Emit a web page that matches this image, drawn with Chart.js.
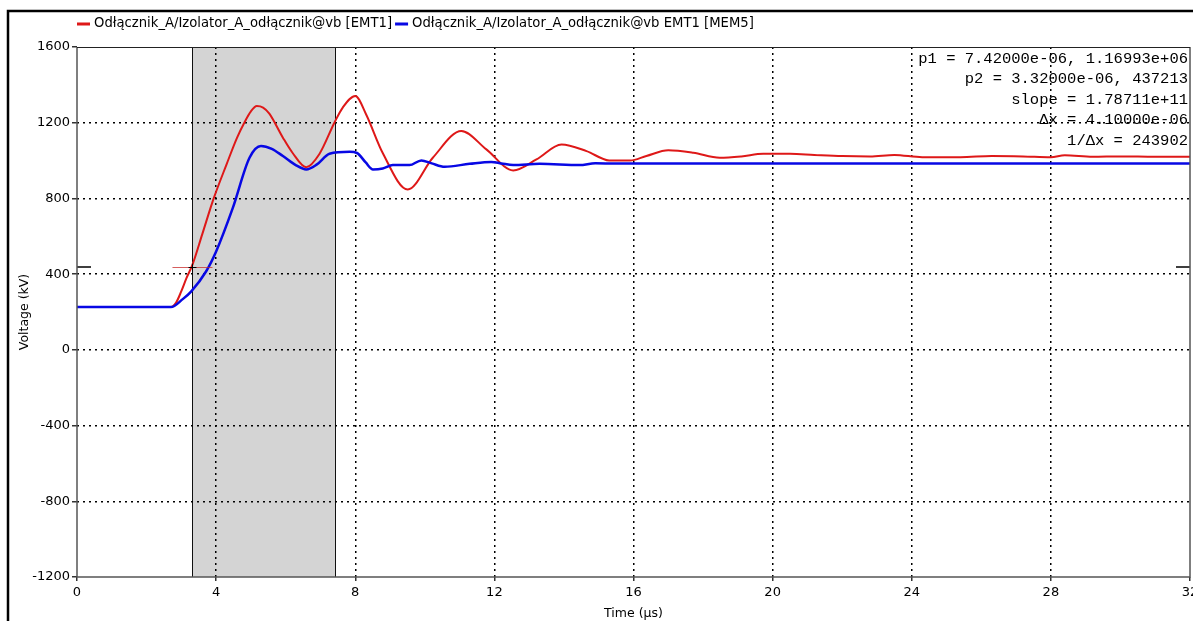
<!DOCTYPE html>
<html><head><meta charset="utf-8">
<script src="https://cdn.jsdelivr.net/npm/chart.js@4"></script>
<style>html,body{margin:0;padding:0;background:#fff}canvas{display:block}</style>
</head><body>
<canvas id="c" width="1193" height="621"></canvas>
<script>
const seriesLabels = ['Odłącznik_A/Izolator_A_odłącznik@vb [EMT1]', 'Odłącznik_A/Izolator_A_odłącznik@vb EMT1 [MEM5]'];
const seriesColors = ['rgb(222,24,24)', 'rgb(8,8,228)'];

const redT = [0, 2.70, 2.85, 3.00, 3.15, 3.32, 3.60, 3.93, 4.30, 4.60, 4.81, 5.00, 5.17, 5.35, 5.53, 5.92, 6.20, 6.59, 6.97, 7.40, 7.64, 8.00, 8.31, 8.79, 9.51, 10.23, 11.05, 11.77, 12.54, 13.21, 13.93, 14.65, 15.30, 15.90, 16.37, 17.00, 17.72, 18.48, 19.10, 19.73, 20.50, 21.20, 22.00, 22.80, 23.50, 24.30, 25.40, 26.30, 27.20, 28.00, 28.40, 29.20, 30.00, 31.00, 32.00];
const redV = [226, 226, 250, 310, 380, 450, 610, 800, 980, 1120, 1200, 1260, 1288, 1280, 1248, 1121, 1040, 965, 1035, 1200, 1280, 1341, 1245, 1040, 847, 1015, 1156, 1059, 948, 1006, 1085, 1050, 1001, 1000, 1024, 1054, 1041, 1015, 1022, 1036, 1036, 1030, 1024, 1022, 1030, 1018, 1018, 1024, 1022, 1018, 1028, 1020, 1022, 1020, 1020];

const blueT = [0, 2.70, 3.04, 3.28, 3.71, 4.00, 4.48, 4.96, 5.29, 5.60, 5.92, 6.30, 6.59, 6.90, 7.26, 7.84, 8.05, 8.30, 8.51, 8.79, 9.08, 9.56, 9.90, 10.20, 10.57, 11.29, 11.91, 12.20, 12.54, 13.30, 14.45, 14.90, 15.50, 32.00];
const blueV = [226, 226, 268, 308, 414, 520, 750, 1015, 1077, 1062, 1024, 975, 953, 980, 1036, 1046, 1040, 990, 953, 958, 976, 976, 1001, 985, 967, 983, 993, 985, 976, 983, 976, 986, 984, 984];

const xTicks = [0, 4, 8, 12, 16, 20, 24, 28, 32];
const xTickLabels = ['0', '4', '8', '12', '16', '20', '24', '28', '32'];
const yTicks = [-1200, -800, -400, 0, 400, 800, 1200, 1600];
const yTickLabels = ['-1200', '-800', '-400', '0', '400', '800', '1200', '1600'];

const cursorP1 = [7.42, 1169.93];
const cursorP2 = [3.32, 437.213];
const cursorText = ['p1 = 7.42000e-06, 1.16993e+06', 'p2 = 3.32000e-06, 437213', 'slope = 1.78711e+11', '\u0394x = 4.10000e-06', '1/\u0394x = 243902'];

const xTitle = 'Time (\u00b5s)';
const yTitle = 'Voltage (kV)';

const pts = (t, v) => t.map((tt, i) => ({x: tt, y: v[i]}));

const deco = {
  id: 'deco',
  beforeDraw(chart) {
    const {ctx, chartArea: a, scales: {x}} = chart;
    ctx.save();
    ctx.fillStyle = '#fff';
    ctx.fillRect(0, 0, chart.width, chart.height);
    const x1 = x.getPixelForValue(cursorP2[0]);
    const x2 = x.getPixelForValue(cursorP1[0]);
    ctx.fillStyle = '#d4d4d4';
    ctx.fillRect(x1, a.top, x2 - x1, a.bottom - a.top);
    ctx.strokeStyle = '#111';
    ctx.lineWidth = 1;
    ctx.beginPath();
    [x1, x2].forEach(px => {
      const p = Math.round(px) + 0.5;
      ctx.moveTo(p, a.top); ctx.lineTo(p, a.bottom);
    });
    ctx.stroke();
    ctx.restore();
  },
  afterDatasetsDraw(chart) {
    const {ctx, chartArea: a, scales: {x, y}} = chart;
    ctx.save();
    const px = x.getPixelForValue(cursorP2[0]);
    const py = Math.round(y.getPixelForValue(cursorP2[1])) + 0.5;
    ctx.strokeStyle = 'rgba(200,40,40,0.75)';
    ctx.lineWidth = 1;
    ctx.beginPath(); ctx.moveTo(px - 20, py); ctx.lineTo(px + 20, py); ctx.stroke();
    ctx.strokeStyle = '#000';
    ctx.beginPath(); ctx.moveTo(px - 4, py); ctx.lineTo(px + 4, py);
    ctx.moveTo(px, py - 4); ctx.lineTo(px, py + 4); ctx.stroke();
    ctx.lineWidth = 1.5;
    ctx.beginPath();
    ctx.moveTo(a.left, py - 0.5); ctx.lineTo(a.left + 14, py - 0.5);
    ctx.moveTo(a.right - 14, py - 0.5); ctx.lineTo(a.right, py - 0.5);
    ctx.stroke();
    ctx.restore();
  },
  afterDraw(chart) {
    const {ctx, chartArea: a} = chart;
    ctx.save();
    ctx.strokeStyle = '#555';
    ctx.lineWidth = 1.5;
    ctx.beginPath();
    ctx.moveTo(a.left, a.top); ctx.lineTo(a.left, a.bottom); ctx.lineTo(a.right, a.bottom); ctx.lineTo(a.right, a.top);
    ctx.stroke();
    ctx.strokeStyle = '#222';
    ctx.lineWidth = 1;
    ctx.beginPath(); ctx.moveTo(a.left, a.top + 0.5); ctx.lineTo(a.right, a.top + 0.5); ctx.stroke();
    ctx.fillStyle = '#000';
    ctx.font = '15.5px "Liberation Mono", monospace';
    ctx.textAlign = 'right';
    ctx.textBaseline = 'middle';
    cursorText.forEach((s, i) => ctx.fillText(s, a.right - 2, a.top + 11.5 + i * 20.5));
    ctx.textAlign = 'left';
    ctx.font = '13.2px "DejaVu Sans", sans-serif';
    let lx = a.left;
    const ly = 24;
    chart.data.datasets.forEach((ds, i) => {
      ctx.fillStyle = seriesColors[i];
      ctx.fillRect(lx, ly - 1.5, 13, 3);
      ctx.fillStyle = '#000';
      ctx.fillText(ds.label, lx + 17, ly);
      lx += 17 + ctx.measureText(ds.label).width + 3;
    });
    ctx.strokeStyle = '#000';
    ctx.lineWidth = 2.5;
    ctx.strokeRect(8, 11, 1400, 900);
    ctx.restore();
  }
};

const tickFont = {family: '"DejaVu Sans", sans-serif', size: 13};
const titleFont = {family: '"DejaVu Sans", sans-serif', size: 12.5};

new Chart(document.getElementById('c'), {
  type: 'line',
  data: {
    datasets: [
      {label: seriesLabels[0], data: pts(redT, redV), borderColor: seriesColors[0], borderWidth: 2, pointRadius: 0, cubicInterpolationMode: 'monotone', order: 2},
      {label: seriesLabels[1], data: pts(blueT, blueV), borderColor: seriesColors[1], borderWidth: 2.5, pointRadius: 0, cubicInterpolationMode: 'monotone', order: 1}
    ]
  },
  options: {
    responsive: false,
    animation: false,
    devicePixelRatio: 1,
    layout: {padding: {top: 47, right: 3, left: 0, bottom: 0}},
    plugins: {legend: {display: false}, tooltip: {enabled: false}},
    scales: {
      x: {
        type: 'linear', min: 0, max: 32,
        afterFit: s => { s.height = 44; s.paddingLeft = 0; s.paddingRight = 0; },
        afterBuildTicks: s => { s.ticks = xTicks.map(v => ({value: v})); },
        ticks: {font: tickFont, color: '#000', padding: 4, maxRotation: 0, autoSkip: false,
          callback: v => xTickLabels[xTicks.indexOf(v)]},
        grid: {color: c => (c.tick && (c.tick.value === 0 || c.tick.value === 32)) ? 'rgba(0,0,0,0)' : '#000',
          lineWidth: 1.5, tickLength: 4, tickColor: '#333', tickWidth: 1.5},
        border: {display: false, dash: [2, 4]},
        title: {display: true, text: xTitle, font: titleFont, color: '#000', padding: {top: 1.5, bottom: 0}}
      },
      y: {
        type: 'linear', min: -1200, max: 1600,
        afterFit: s => { s.width = 77; s.paddingTop = 0; s.paddingBottom = 0; },
        afterBuildTicks: s => { s.ticks = yTicks.map(v => ({value: v})); },
        ticks: {font: tickFont, color: '#000', padding: 2,
          callback: v => yTickLabels[yTicks.indexOf(v)]},
        grid: {color: c => (c.tick && (c.tick.value === -1200 || c.tick.value === 1600)) ? 'rgba(0,0,0,0)' : '#000',
          lineWidth: 1.5, tickLength: 5, tickColor: '#333', tickWidth: 1.5},
        border: {display: false, dash: [2, 4]},
        title: {display: true, text: yTitle, font: titleFont, color: '#000', padding: {top: 17.5, bottom: 0}}
      }
    }
  },
  plugins: [deco]
});
</script>
</body></html>
